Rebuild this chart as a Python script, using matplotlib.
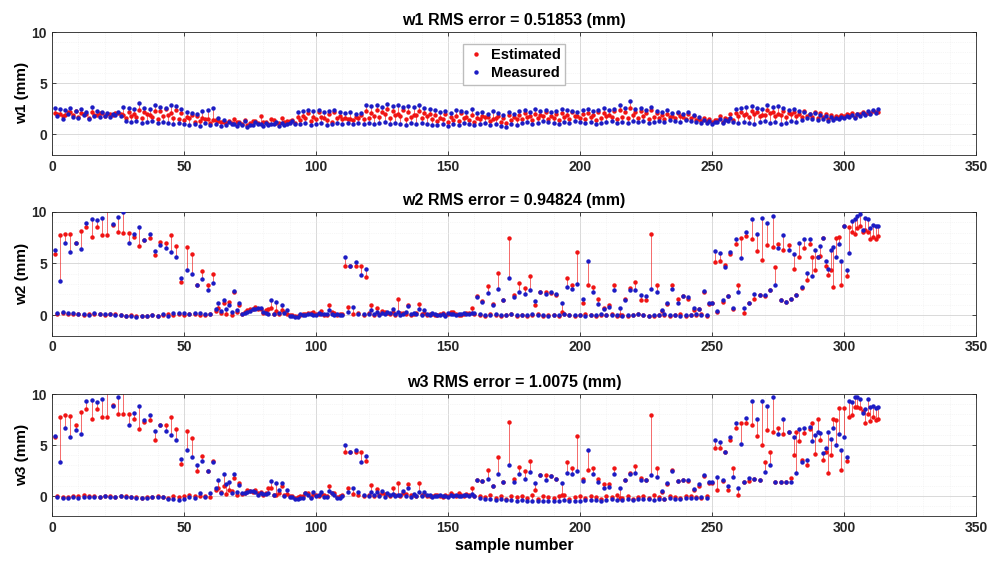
import matplotlib

matplotlib.use("Agg")
import matplotlib.pyplot as plt
import numpy as np
from matplotlib.ticker import MultipleLocator

plt.rcParams["font.family"] = ["Liberation Sans", "DejaVu Sans"]
plt.rcParams["font.weight"] = "bold"

# Samples are interleaved: track "a" = odd samples (1,3,...,313), track "b" = even (2,...,312)

# ---- w1 ----
w1_est_a = [2.1, 2.0, 1.9, 2.2, 2.3, 2.1, 2.0, 2.2, 1.9, 2.1, 2.0, 1.9, 2.1,
            1.9, 2.2, 2.0, 2.4, 2.2, 1.9, 2.3, 2.3, 2.5, 2.1, 2.4,
            2.1, 1.7, 1.9, 1.8, 1.6, 1.5, 1.4, 1.3, 1.2,
            1.3, 1.5, 1.2, 1.4, 1.1, 1.3, 1.8, 1.2, 1.5, 1.1, 1.6, 1.3, 1.4,
            1.7, 1.8, 2.1, 1.7, 2.2, 1.6, 2.0, 2.2, 1.8,
            1.6, 1.5, 1.7, 1.9,
            2.3, 2.1, 2.4, 2.2, 2.5, 2.3, 2.0, 2.4, 2.2, 1.9, 2.3, 2.1, 2.0,
            1.9, 1.6, 2.0, 1.7, 1.8, 2.1, 1.7, 1.9, 1.6, 1.8, 1.7, 1.5, 1.8, 1.6, 1.9, 1.7,
            1.9, 2.1, 1.8, 2.0, 1.9, 2.2, 1.8, 2.0, 2.1, 1.9, 2.2, 1.8, 2.0, 2.1, 1.9, 2.2,
            2.1, 1.9, 2.3, 2.4, 2.2, 2.6,
            2.2, 2.3, 2.1, 2.4, 2.1, 1.9, 2.0, 1.8, 2.1, 1.7, 2.0, 1.8, 1.5,
            1.6, 1.5, 1.4, 1.8, 1.6, 2.0,
            2.1, 2.2, 2.0, 2.3, 2.2, 1.9, 2.4, 2.2, 2.0, 2.3, 2.1, 2.2, 2.0,
            2.3, 2.0, 2.2, 2.1, 2.0, 1.9, 1.8, 1.9, 2.0, 2.1, 2.0, 2.2, 2.1, 2.3, 2.2]
w1_meas_a = [2.6, 2.5, 2.4, 2.6, 2.3, 2.5, 2.2, 2.7, 2.3, 2.2, 2.1, 2.0, 2.2,
             2.7, 2.6, 2.5, 3.1, 2.6, 2.5, 2.9, 2.7, 2.6, 2.9, 2.8,
             2.5, 2.2, 2.1, 2.0, 2.3, 2.4, 2.6, 1.6, 1.4,
             1.2, 1.0, 1.1, 1.3, 0.9, 1.2, 1.0, 1.1, 1.0, 1.2, 1.1, 1.0, 1.3,
             2.2, 2.3, 2.4, 2.3, 2.4, 2.2, 2.3, 2.4, 2.2,
             2.1, 2.2, 2.0, 2.1,
             2.9, 2.8, 2.9, 2.7, 3.0, 2.8, 2.9, 2.7, 2.8, 2.7, 2.9, 2.6, 2.5,
             2.4, 2.2, 2.3, 2.1, 2.4, 2.3, 2.2, 2.5, 2.1, 2.2, 2.0, 2.3, 2.1, 1.9, 2.2, 2.0,
             2.3, 2.4, 2.2, 2.5, 2.3, 2.4, 2.2, 2.3, 2.5, 2.4, 2.3, 2.2, 2.4, 2.5, 2.3, 2.4,
             2.6, 2.4, 2.5, 2.9, 2.6, 3.3,
             2.5, 2.6, 2.4, 2.7, 2.3, 2.2, 2.4, 2.1, 2.2, 2.0, 2.2, 1.9, 1.7,
             1.4, 1.3, 1.2, 1.5, 1.4, 1.6,
             2.5, 2.6, 2.7, 2.8, 2.6, 2.5, 2.9, 2.7, 2.8, 2.6, 2.4, 2.5, 2.3,
             2.2, 2.0, 2.1, 1.9, 1.8, 1.7, 1.6, 1.7, 1.8, 1.9, 2.0, 2.1, 2.3, 2.4, 2.5]
w1_est_b = [2.0, 1.8, 2.2, 1.9, 1.7, 2.0, 1.6, 1.9, 2.1, 1.8, 2.0, 2.1, 2.0,
            1.6, 1.8, 1.7, 1.6, 2.0, 1.7, 1.5, 1.8, 1.9, 1.6, 1.5,
            1.4, 1.6, 1.2, 1.3, 1.5, 1.1, 1.4, 1.2, 1.1,
            1.1, 1.2, 1.0, 0.9, 1.3, 1.1, 1.2, 1.0, 1.4, 1.1, 1.2, 1.3, 1.1,
            1.4, 1.6, 1.3, 1.5, 1.7, 1.4, 1.2, 1.6, 1.5,
            1.5, 1.4, 1.6, 1.5,
            1.6, 1.8, 1.7, 2.0, 1.6, 1.9, 1.8, 1.5, 1.7, 1.9, 1.6, 1.8, 1.5,
            1.3, 1.5, 1.2, 1.4, 1.3, 1.6, 1.4, 1.2, 1.5, 1.7, 1.3, 1.6, 1.2, 1.1, 1.4, 1.5,
            1.5, 1.7, 1.4, 1.6, 1.8, 1.5, 1.6, 1.4, 1.7, 1.5, 1.8, 1.6, 1.5, 1.7, 1.4, 1.6,
            1.8, 1.7, 1.5, 1.7, 1.6, 1.9,
            1.6, 1.8, 1.5, 1.7, 1.6, 1.5, 1.7, 1.6, 1.8, 1.5, 1.6, 1.4, 1.3,
            1.3, 1.2, 1.4, 1.2, 1.5, 1.4,
            1.8, 1.9, 1.7, 2.0, 1.8, 1.9, 2.1, 1.8, 1.9, 1.7, 2.0, 1.8, 1.7,
            1.8, 1.7, 1.6, 1.7, 1.5, 1.6, 1.7, 1.8, 1.9, 1.7, 2.0, 2.0, 2.1, 2.2]
w1_meas_b = [1.8, 1.5, 2.0, 1.7, 1.6, 1.9, 1.5, 1.8, 1.7, 1.8, 1.7, 1.9, 1.8,
             1.3, 1.2, 1.3, 1.1, 1.2, 1.3, 1.1, 1.2, 1.1, 1.0, 1.1,
             1.0, 0.9, 1.0, 0.8, 1.1, 0.9, 1.0, 0.8, 0.9,
             1.0, 0.8, 0.9, 0.7, 0.9, 1.0, 0.8, 0.9, 1.0, 0.8, 0.9, 1.1, 1.0,
             1.0, 1.1, 0.9, 1.0, 1.1, 0.9, 1.0, 1.1, 1.0,
             1.1, 1.0, 1.1, 1.0,
             1.1, 1.0, 1.1, 1.2, 1.0, 1.1, 1.0, 0.9, 1.1, 1.0, 1.1, 1.0, 0.9,
             0.9, 1.0, 0.8, 1.0, 0.9, 1.1, 1.0, 0.9, 1.0, 1.1, 0.9, 1.0, 0.8, 0.7, 1.0, 0.9,
             1.1, 1.2, 1.0, 1.1, 1.3, 1.2, 1.1, 1.0, 1.2, 1.1, 1.3, 1.2, 1.1, 1.2, 1.0, 1.1,
             1.2, 1.3, 1.1, 1.2, 1.1, 1.3,
             1.2, 1.3, 1.1, 1.2, 1.3, 1.2, 1.4, 1.3, 1.2, 1.4, 1.3, 1.2, 1.1,
             1.1, 1.0, 1.2, 1.1, 1.3, 1.2,
             1.1, 1.2, 1.1, 1.0, 1.2, 1.3, 1.1, 1.2, 1.0, 1.1, 1.3, 1.2, 1.4,
             1.6, 1.5, 1.4, 1.5, 1.3, 1.4, 1.5, 1.6, 1.7, 1.6, 1.8, 1.9, 2.0, 2.1]

# ---- w2 ----
w2_est_a = [5.9, 7.8, 7.9, 7.85, 7.0, 8.2, 8.5, 7.6, 8.5, 7.8,
            7.8, 8.7, 8.1, 8.0, 8.0, 7.6, 6.7, 7.3, 7.5, 5.8,
            7.1, 7.0, 7.8, 6.7, 3.2, 6.6, 5.9, 2.9, 4.3, 2.9,
            4.0, 0.7, 1.2, 1.3, 2.2, 1.0, 0.3, 0.6, 0.8, 0.6,
            0.5, 0.7, 0.4, 0.5, 0.1, 0.0, -0.1, 0.1, 0.2, 0.3,
            0.1, 0.0, 1.0, 0.2, 0.1, 4.8, 4.8, 4.8, 4.8, 3.7,
            1.0, 0.7, 0.4, 0.2, 0.3, 1.55, 0.2, 1.0, 0.1, 1.1,
            0.2, 0.1, 0.0, 0.1, 0.0, 0.3, 0.1, 0.0, 0.2, 0.7,
            1.85, 1.4, 2.85, 1.1, 4.1, 1.5, 7.5, 1.9, 3.1, 2.65,
            3.8, 1.0, 2.25, 2.2, 2.1, 1.9, 0.25, 3.6, 2.9, 6.1,
            1.2, 2.9, 2.7, 1.55, 0.7, 0.97, 2.9, 0.0, 1.6, 2.6,
            3.2, 1.5, 1.45, 7.9, 2.95, 0.4, 1.1, 2.9, 1.6, 1.8,
            1.6, 0.5, 0.6, 2.25, 1.1,
            5.1, 5.2, 4.85, 5.9, 6.85, 7.5, 7.7, 7.4, 6.2, 5.3,
            6.8, 6.6, 6.85, 6.3, 6.8, 4.5, 5.6, 6.5, 6.85, 4.4,
            5.75, 4.8, 4.4, 7.5, 2.9, 3.8, 8.1, 8.4, 8.1, 8.1, 7.6, 7.7]
w2_meas_a = [6.3, 3.3, 7.0, 6.1, 7.0, 6.4, 8.9, 9.3, 9.2, 9.4,
             10.8, 8.8, 9.5, 10.0, 7.0, 7.9, 8.5, 7.3, 7.9, 6.2,
             6.8, 6.5, 6.1, 5.6, 3.6, 4.4, 4.0, 2.9, 3.5, 2.4,
             3.1, 1.2, 1.5, 1.0, 2.3, 1.2, 0.2, 0.4, 0.6, 0.7,
             0.2, 1.5, 1.3, 1.0, 0.5, -0.1, -0.2, 0.0, 0.1, 0.0,
             0.2, 0.1, 0.5, 0.0, 0.0, 5.6, 4.8, 5.1, 3.9, 4.5,
             0.5, 0.3, 0.2, 0.3, 0.6, 0.3, 0.1, 0.9, 0.2, 0.6,
             0.5, 0.0, 0.1, 0.0, -0.1, 0.1, 0.0, 0.1, 0.1, 0.2,
             1.7, 1.3, 2.1, 1.0, 2.5, 1.45, 3.6, 1.7, 2.2, 2.0,
             2.45, 1.35, 2.25, 2.0, 2.2, 2.0, 1.2, 2.75, 2.5, 3.0,
             1.6, 5.2, 2.2, 1.1, 0.6, 0.8, 2.4, 0.65, 1.5, 2.4,
             2.4, 1.9, 1.85, 2.5, 2.2, 0.5, 1.2, 2.5, 1.2, 1.85,
             1.7, 0.65, 0.55, 2.3, 1.2,
             6.2, 6.0, 4.7, 6.1, 7.35, 5.55, 8.1, 9.3, 7.9, 9.45,
             8.9, 9.6, 6.5, 7.8, 6.3, 5.9, 7.0, 7.35, 7.35, 6.3,
             6.7, 5.2, 6.3, 5.65, 5.2, 4.4, 9.1, 9.6, 8.25, 9.3, 8.7, 8.6]
w2_est_b = [0.1, 0.15, 0.1, 0.05, 0.1, 0.0, 0.1, 0.05, 0.1, 0.0,
            0.1, 0.05, 0.0, -0.05, 0.0, -0.1, -0.1, -0.05, 0.0, -0.1,
            0.0, 0.05, 0.0, 0.1, 0.0, 0.05, 0.1, 0.0, 0.0, 0.05,
            0.4, 0.2, 0.1, 0.0, 0.3, 0.1, 0.5, 0.6, 0.6, 0.2,
            0.6, 0.1, 0.1, 0.3, 0.0, -0.1, 0.0, 0.1, 0.2, 0.1,
            0.4, 0.0, 0.3, 0.0, 0.1,
            0.75, 0.1, 0.2, 0.0,
            0.2, 0.0, 0.1, 0.3, 0.1, 0.0, 0.2, 0.1, 0.0, 0.2,
            0.1, 0.0, 0.1, 0.0, 0.2, 0.1, 0.3, 0.0, 0.1, 0.2, 0.1,
            0.0, -0.1, 0.05, 0.0, -0.1, 0.0, 0.1, -0.05, 0.0, -0.1,
            0.0, 0.05, -0.1, 0.0, 0.0, -0.05, 0.1, 0.0, -0.1, 0.0,
            0.05, 0.0, -0.1, 0.0, 0.0, 0.1, -0.05, 0.0, -0.1, 0.0,
            0.05, 0.0, -0.1, -0.05, 0.0, 0.0, -0.1, 0.0, 0.05, -0.1,
            0.0, 0.0, 0.1, -0.05,
            1.2, 0.3, 1.3, 1.8, 0.6, 2.95, 0.15, 1.2, 1.55, 1.9,
            1.85, 2.4, 4.7, 1.45, 1.3, 1.6, 1.9, 2.6, 3.4, 5.6,
            5.65, 7.5, 3.9, 2.75, 7.6, 8.6, 8.5, 7.9, 8.6, 8.25, 7.35, 7.4]
w2_meas_b = [0.2, 0.25, 0.15, 0.2, 0.1, 0.05, 0.0, 0.15, 0.1, 0.1,
             0.05, 0.0, 0.0, -0.1, -0.1, -0.15, -0.1, -0.1, 0.0, -0.05,
             0.1, -0.1, 0.2, 0.15, 0.2, 0.1, 0.15, 0.2, 0.1, 0.1,
             0.6, 0.4, 0.6, 0.3, 0.5, 0.1, 0.3, 0.6, 0.7, 0.3,
             0.1, 0.1, 0.2, 0.2, -0.1, -0.2, 0.1, 0.0, 0.1, 0.0,
             0.1, 0.1, 0.1, 0.1, 0.0,
             0.3, 0.8, 0.1, 0.1,
             0.1, 0.1, 0.0, 0.1, 0.2, 0.1, 0.0, 0.3, 0.1, 0.1,
             0.0, 0.1, 0.2, 0.0, 0.1, 0.2, 0.1, 0.1, 0.2, 0.1, 0.2,
             0.05, 0.0, 0.0, 0.05, 0.0, 0.0, 0.05, 0.0, 0.0, 0.0,
             0.05, 0.0, 0.0, -0.05, 0.0, 0.0, 0.05, 0.0, 0.0, 0.0,
             -0.05, 0.0, 0.0, 0.05, 0.0, 0.0, 0.0, -0.05, 0.0, 0.0,
             0.05, 0.0, -0.05, 0.0, 0.0, 0.05, 0.0, 0.0, -0.05, 0.0,
             0.0, 0.05, 0.0, 0.0,
             1.2, 0.4, 1.45, 1.85, 0.65, 2.2, 0.65, 1.2, 2.0, 1.9,
             1.9, 2.4, 2.9, 1.45, 1.3, 1.6, 1.9, 2.75, 4.1, 3.8,
             5.65, 7.5, 4.5, 6.6, 6.85, 8.6, 6.0, 9.3, 9.8, 9.45, 8.4, 8.6]

# ---- w3 ----
w3_est_a = [5.8, 7.7, 7.9, 7.85, 7.0, 8.2, 8.5, 7.55, 8.5, 7.7,
            7.7, 8.9, 8.0, 8.0, 8.0, 7.6, 6.6, 7.3, 7.45, 5.5,
            7.0, 6.95, 7.7, 6.6, 3.1, 6.4, 5.65, 2.5, 3.9, 2.45,
            3.4, 0.75, 1.0, 0.6, 1.8, 1.25, 0.3, 0.5, 0.6, 0.4,
            0.3, 0.75, 0.1, 1.0, 0.2, 0.0, -0.1, 0.0, 0.3, 0.2,
            0.0, 0.1, 1.0, 0.3, 0.0, 4.3, 4.35, 4.3, 4.3, 3.4,
            1.05, 0.7, 0.3, 0.2, 0.75, 1.3, 0.3, 1.2, 0.1, 1.25,
            0.2, 0.0, 0.1, 0.0, 0.1, 0.3, 0.0, 0.1, 0.2, 0.75,
            1.6, 1.45, 2.55, 1.0, 3.85, 1.4, 7.3, 1.7, 2.85, 2.45,
            3.4, 0.6, 2.05, 2.05, 2.0, 1.7, 0.1, 3.35, 2.7, 5.9,
            1.7, 2.55, 2.7, 1.7, 1.15, 1.15, 2.75, -0.2, 1.55, 2.3,
            2.95, 1.8, 1.6, 7.9, 2.7, 0.4, 1.2, 2.55, 1.45, 1.6,
            1.5, 0.6, 1.0, 2.0, 1.3,
            4.7, 4.75, 4.3, 5.5, 6.7, 7.2, 7.2, 7.0, 5.9, 5.0,
            6.45, 6.25, 6.65, 6.1, 6.3, 4.0, 5.35, 6.15, 6.6, 4.1,
            5.5, 4.3, 4.0, 7.45, 2.55, 3.4, 7.95, 8.7, 8.3, 8.0, 7.7, 7.6]
w3_meas_a = [5.9, 3.3, 6.7, 5.8, 6.5, 6.05, 9.3, 9.4, 9.2, 9.5,
             10.8, 8.8, 9.7, 10.6, 7.0, 8.1, 8.8, 7.45, 7.95, 6.4,
             7.0, 6.4, 6.0, 5.5, 3.6, 4.5, 3.85, 3.0, 3.4, 2.45,
             3.3, 1.6, 2.2, 1.35, 2.2, 1.1, 0.3, 0.5, 0.4, 0.3,
             0.2, 1.5, 1.3, 1.3, 0.6, -0.1, -0.3, -0.2, 0.1, 0.35,
             0.1, -0.1, 0.5, 0.1, -0.2, 5.0, 4.35, 4.5, 3.3, 3.95,
             0.4, 0.35, 0.5, 0.3, 0.2, 0.1, 0.5, 0.75, 0.2, 0.4,
             0.4, 0.1, 0.0, 0.1, 0.0, 0.1, 0.1, 0.0, 0.1, 0.2,
             1.55, 1.45, 1.7, 1.0, 2.2, 1.4, 3.0, 1.4, 2.2, 1.7,
             2.4, 1.25, 2.05, 1.55, 2.0, 1.7, 1.25, 2.3, 2.2, 2.45,
             1.45, 4.55, 2.2, 1.4, 0.75, 0.9, 2.2, 0.8, 1.55, 2.2,
             2.3, 1.55, 1.55, 2.1, 1.9, 0.5, 1.25, 2.45, 1.45, 1.6,
             1.6, 0.65, 1.15, 2.05, 1.35,
             5.5, 5.3, 4.3, 5.75, 7.2, 5.1, 7.65, 9.3, 7.6, 9.3,
             8.8, 9.7, 6.1, 7.55, 6.25, 5.75, 6.6, 6.7, 6.8, 6.0,
             6.15, 4.75, 5.6, 5.05, 4.5, 3.85, 9.2, 9.7, 8.1, 9.55, 8.85, 8.7]
w3_est_b = [0.0, -0.1, -0.1, 0.0, 0.05, 0.1, 0.0, 0.05, -0.05, 0.0,
            0.0, -0.1, 0.05, 0.0, -0.1, -0.1, -0.15, -0.1, -0.05, 0.0,
            -0.1, -0.15, 0.0, -0.05, 0.0, 0.1, 0.0, 0.05, 0.0, -0.05,
            0.6, 0.4, 0.2, 0.5, 0.1, 0.2, 0.6, 0.4, 0.3, 0.1,
            0.75, 0.1, 0.3, 0.1, 0.0, -0.2, 0.0, 0.3, -0.1, 0.1,
            0.2, 0.0, 0.3, -0.1, 0.1,
            0.8, 0.2, 0.1, 0.0,
            0.1, 0.0, 0.1, 0.2, 0.0, 0.1, 0.0, 0.2, 0.1, 0.0,
            0.1, 0.0, 0.0, 0.1, -0.1, 0.0, 0.1, 0.3, 0.0, 0.1, 0.0,
            0.0, -0.1, 0.1, -0.2, 0.0, -0.3, 0.05, -0.1, 0.0, -0.2,
            0.1, -0.3, 0.0, -0.1, -0.2, 0.0, 0.1, -0.3, -0.1, 0.0,
            -0.2, 0.05, -0.1, -0.3, 0.0, -0.1, 0.1, -0.2, 0.0, -0.3,
            -0.1, 0.0, -0.2, 0.1, -0.1, -0.3, 0.0, -0.1, -0.2, 0.0,
            0.05, -0.1, -0.2, 0.0,
            1.3, 0.6, 1.5, 0.6, 2.7, 0.1, 1.35, 1.45, 1.7, 1.55,
            3.3, 4.3, 1.35, 1.35, 1.4, 1.8, 6.25, 3.5, 3.0, 7.2,
            7.6, 3.55, 2.3, 7.6, 8.65, 8.6, 7.7, 8.75, 8.65, 7.2, 7.35, 7.5]
w3_meas_b = [-0.1, -0.15, -0.15, -0.1, -0.15, -0.1, -0.1, -0.1, -0.05, 0.0,
             -0.05, -0.1, 0.0, -0.1, -0.1, -0.15, -0.15, -0.2, -0.1, -0.1,
             -0.1, -0.3, -0.3, -0.4, -0.3, -0.1, -0.2, 0.3, -0.1, 0.3,
             0.8, 0.3, 1.2, 0.3, 0.4, 0.3, 0.4, 0.5, 0.1, 0.2,
             0.3, 0.1, 0.6, 0.0, -0.1, -0.3, -0.2, 0.3, -0.2, 0.0,
             0.35, -0.1, 0.3, -0.2, 0.0,
             0.35, 0.8, 0.4, 0.1,
             0.0, 0.1, 0.0, -0.1, 0.1, 0.0, 0.1, 0.0, -0.1, 0.0,
             0.0, 0.1, -0.1, 0.0, 0.0, -0.1, 0.0, 0.0, 0.1, 0.0, 0.0,
             -0.2, -0.3, -0.25, -0.35, -0.3, -0.4, -0.35, -0.45, -0.4, -0.5,
             -0.45, -0.5, -0.5, -0.45, -0.5, -0.5, -0.4, -0.5, -0.45, -0.5,
             -0.4, -0.35, -0.4, -0.45, -0.35, -0.3, -0.4, -0.35, -0.3, -0.4,
             -0.3, -0.25, -0.3, -0.35, -0.25, -0.3, -0.2, -0.25, -0.3, -0.2,
             -0.15, -0.2, -0.1, -0.15,
             1.35, 1.9, 1.55, 1.0, 1.9, 0.8, 1.35, 1.8, 1.7, 1.55,
             2.4, 3.0, 1.35, 1.35, 1.4, 1.4, 2.3, 3.35, 3.5, 5.35,
             6.3, 4.2, 6.3, 6.7, 6.1, 5.8, 9.3, 9.75, 9.5, 8.5, 8.75, 8.6]

titles = ["w1 RMS error = 0.51853 (mm)", "w2 RMS error = 0.94824 (mm)",
          "w3 RMS error = 1.0075 (mm)"]
ylabels = ["w1 (mm)", "w2 (mm)", "w3 (mm)"]


def interleave(a, b):
    out = np.empty(len(a) + len(b))
    out[0::2] = a
    out[1::2] = b
    return out


series = [
    (interleave(w1_est_a, w1_est_b), interleave(w1_meas_a, w1_meas_b)),
    (interleave(w2_est_a, w2_est_b), interleave(w2_meas_a, w2_meas_b)),
    (interleave(w3_est_a, w3_est_b), interleave(w3_meas_a, w3_meas_b)),
]

RED = "#f01414"
BLUE = "#1c1cc4"
positions = [[0.0524, 0.726, 0.9315, 0.2173],
             [0.0524, 0.406, 0.9315, 0.2188],
             [0.0524, 0.086, 0.9315, 0.2166]]

fig = plt.figure(figsize=(9.92, 5.65), dpi=100)
for i, (est, meas) in enumerate(series):
    ax = fig.add_axes(positions[i])
    x = np.arange(1, len(est) + 1)
    ax.vlines(x, est, meas, colors=RED, lw=0.55, alpha=0.8, zorder=2)
    ax.plot(x, est, "o", color=RED, ms=3.2, mew=0, zorder=3, label="Estimated")
    ax.plot(x, meas, "o", color=BLUE, ms=3.2, mew=0, zorder=4, label="Measured")
    ax.set_xlim(0, 350)
    ax.set_ylim(-2, 10)
    ax.set_xticks(np.arange(0, 351, 50))
    ax.set_yticks([0, 5, 10])
    ax.xaxis.set_minor_locator(MultipleLocator(10))
    ax.yaxis.set_minor_locator(MultipleLocator(1))
    ax.grid(True, which="major", color="#d9d9d9", lw=0.7, zorder=0)
    ax.grid(True, which="minor", color="#eeeeee", lw=0.5, ls=":", zorder=0)
    ax.set_axisbelow(True)
    ax.tick_params(which="major", direction="in", length=3, width=0.6,
                   top=True, right=True, labelsize=10, colors="#262626")
    ax.tick_params(which="minor", length=0)
    for sp in ax.spines.values():
        sp.set_color("#262626")
        sp.set_linewidth(0.6)
    ax.set_title(titles[i], fontsize=11.5, fontweight="bold", pad=5)
    ax.set_ylabel(ylabels[i], fontsize=11, fontweight="bold", labelpad=2)
    if i == 0:
        ax.legend(loc="upper center", bbox_to_anchor=(0.5, 0.965), fontsize=10.5,
                  fancybox=False, framealpha=1, edgecolor="#bdbdbd",
                  handlelength=1.2, handletextpad=0.4, borderpad=0.3,
                  labelspacing=0.3, markerscale=1.0)
    if i == 2:
        ax.set_xlabel("sample number", fontsize=11.5, fontweight="bold", labelpad=2)

fig.savefig("out.png", dpi=100, facecolor="white")
